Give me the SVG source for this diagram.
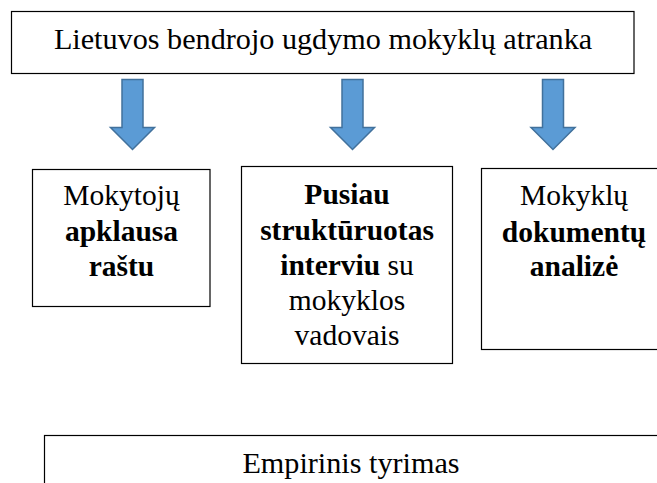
<svg xmlns="http://www.w3.org/2000/svg" width="657" height="483" viewBox="0 0 657 483">
<style>
  .box { fill: #ffffff; stroke: #000000; stroke-width: 1.2; }
  .t { font-family: "Liberation Serif", "Times New Roman", serif; font-size: 29.5px; fill: #000000; text-anchor: middle; }
  .big { font-size: 30.2px; }
  .b { font-weight: bold; }
  .arrow { fill: #5B9BD5; stroke: #41719C; stroke-width: 1.5; stroke-linejoin: miter; }
</style>
<defs>
  <path id="downArrow" d="M -10.5 0 L 10.5 0 L 10.5 48 L 22 48 L 0 70 L -22 48 L -10.5 48 Z"/>
</defs>
<rect width="657" height="483" fill="#ffffff"/>

<g id="top">
  <rect class="box" x="11.5" y="11.5" width="622.5" height="62" stroke-width="1.8"/>
  <text class="t big" x="323" y="48.5">Lietuvos bendrojo ugdymo mokyklų atranka</text>
</g>

<g id="connectors">
  <use href="#downArrow" class="arrow" transform="translate(132.5,79.5)"/>
  <use href="#downArrow" class="arrow" transform="translate(352.5,79.5)"/>
  <use href="#downArrow" class="arrow" transform="translate(553,79.5)"/>
</g>

<g id="node-apklausa">
  <rect class="box" x="32.5" y="169.5" width="177.5" height="137"/>
  <text class="t" x="121.5" y="205">Mokytojų</text>
  <text class="t b" x="121.5" y="240.5">apklausa</text>
  <text class="t b" x="121.5" y="276">raštu</text>
</g>

<g id="node-interviu">
  <rect class="box" x="241.5" y="166.5" width="211" height="197"/>
  <text class="t b" x="347" y="204">Pusiau</text>
  <text class="t b" x="347" y="239.5">struktūruotas</text>
  <text class="t" x="347" y="275"><tspan class="b">interviu</tspan> su</text>
  <text class="t" x="347" y="310">mokyklos</text>
  <text class="t" x="347" y="345">vadovais</text>
</g>

<g id="node-dokumentai">
  <rect class="box" x="481.5" y="168.5" width="190" height="181"/>
  <text class="t" x="574" y="205">Mokyklų</text>
  <text class="t b" x="574" y="241.5">dokumentų</text>
  <text class="t b" x="574" y="276">analizė</text>
</g>

<g id="node-empirinis">
  <rect class="box" x="44.5" y="435.5" width="630" height="70" stroke-width="1.5"/>
  <text class="t big" x="351" y="472.5">Empirinis tyrimas</text>
</g>
</svg>
